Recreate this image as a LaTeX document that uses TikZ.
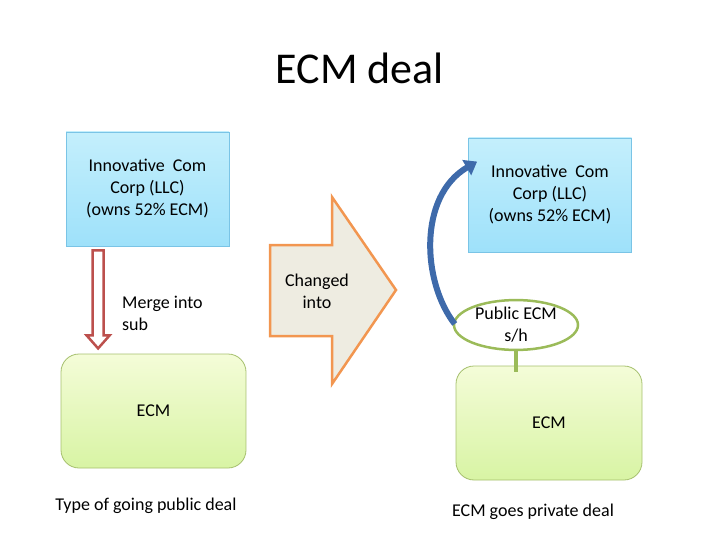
\documentclass[tikz,border=0pt]{standalone}
\usepackage{fontspec}
\setmainfont{Carlito}
\usetikzlibrary{shapes.geometric,arrows.meta,calc}

\definecolor{boxblue}{RGB}{196,239,252}
\definecolor{boxbluedark}{RGB}{158,225,250}
\definecolor{boxblueline}{RGB}{122,196,230}
\definecolor{boxgreen}{RGB}{244,252,216}
\definecolor{boxgreendark}{RGB}{216,244,164}
\definecolor{boxgreenline}{RGB}{166,192,110}
\definecolor{mergered}{RGB}{188,80,77}
\definecolor{changeorange}{RGB}{242,150,80}
\definecolor{changefill}{RGB}{238,236,225}
\definecolor{olivegreen}{RGB}{155,187,89}
\definecolor{loopblue}{RGB}{62,106,170}

\tikzset{
  corpbox/.style={draw=boxblueline, line width=0.8pt, top color=boxblue,
    bottom color=boxbluedark, minimum width=163pt, minimum height=114pt,
    inner sep=0pt, align=center, font=\fontsize{18}{22}\selectfont},
  ecmbox/.style={draw=boxgreenline, line width=0.8pt, rounded corners=18pt,
    top color=boxgreen, bottom color=boxgreendark, minimum width=185pt,
    minimum height=114pt, inner sep=0pt, font=\fontsize{18}{22}\selectfont},
  plain/.style={inner sep=0pt, align=center, font=\fontsize{18}{22}\selectfont}
}

\begin{document}
\begin{tikzpicture}[x=1pt, y=-1pt]

  \useasboundingbox (0,0) rectangle (720,540);

  \node[inner sep=0pt, font=\fontsize{44}{52}\selectfont] (title) at (360,68) {ECM deal};

  % Left side
  \node[corpbox] (corpleft) at (147.5,189) {Innovative\ \ Com\\Corp (LLC)\\(owns 52\% ECM)};
  \node[ecmbox] (ecmleft) at (153.5,411) {ECM};
  \node[plain, align=left, anchor=west] (merge) at (122,313) {Merge into\\sub};
  \node[plain] (leftdeal) at (146,506) {Type of going public deal};

  \coordinate (mergetop) at ($(corpleft.south west)+(32.5,4)$);
  \draw[draw=mergered, fill=white, line width=2.5pt, line join=miter]
    ($(mergetop)+(-5.5,0)$) -- ++(11,0) -- ++(0,85) -- ++(6,0)
    -- ($(mergetop)+(0,98)$) -- ++(-11.5,-13) -- ++(6,0) -- cycle;

  % Changed into
  \draw[draw=changeorange, fill=changefill, line width=2.5pt, line join=miter]
    (270,245) -- (332,245) -- (332,197) -- (396,290) -- (332,384)
    -- (332,336) -- (270,336) -- cycle;
  \node[plain] (changed) at (317,291) {Changed\\into};

  % Right side
  \node[corpbox] (corpright) at (550,195) {Innovative\ \ Com\\Corp (LLC)\\(owns 52\% ECM)};
  \node[ecmbox, minimum width=186pt] (ecmright) at (549,423) {ECM};
  \node[plain] (rightdeal) at (533,512) {ECM goes private deal};

  \node[ellipse, draw=olivegreen, fill=white, line width=2.5pt, minimum width=124pt,
    minimum height=44pt, inner sep=0pt, align=center,
    font=\fontsize{18}{22}\selectfont] (pubsh) at (516,325) {Public ECM\\s/h};

  \draw[olivegreen, line width=4pt] (pubsh.south) -- ($(pubsh.south |- ecmright.north)+(0,6)$);

  \coordinate (looptip) at ($(corpright.north west)+(9,24)$);
  \draw[loopblue, line width=6pt, -{Triangle[length=12pt, width=17pt]}]
    ($(pubsh.west)+(2,-1)$) .. controls (422,282) and (418,196) .. (looptip);

\end{tikzpicture}
\end{document}
